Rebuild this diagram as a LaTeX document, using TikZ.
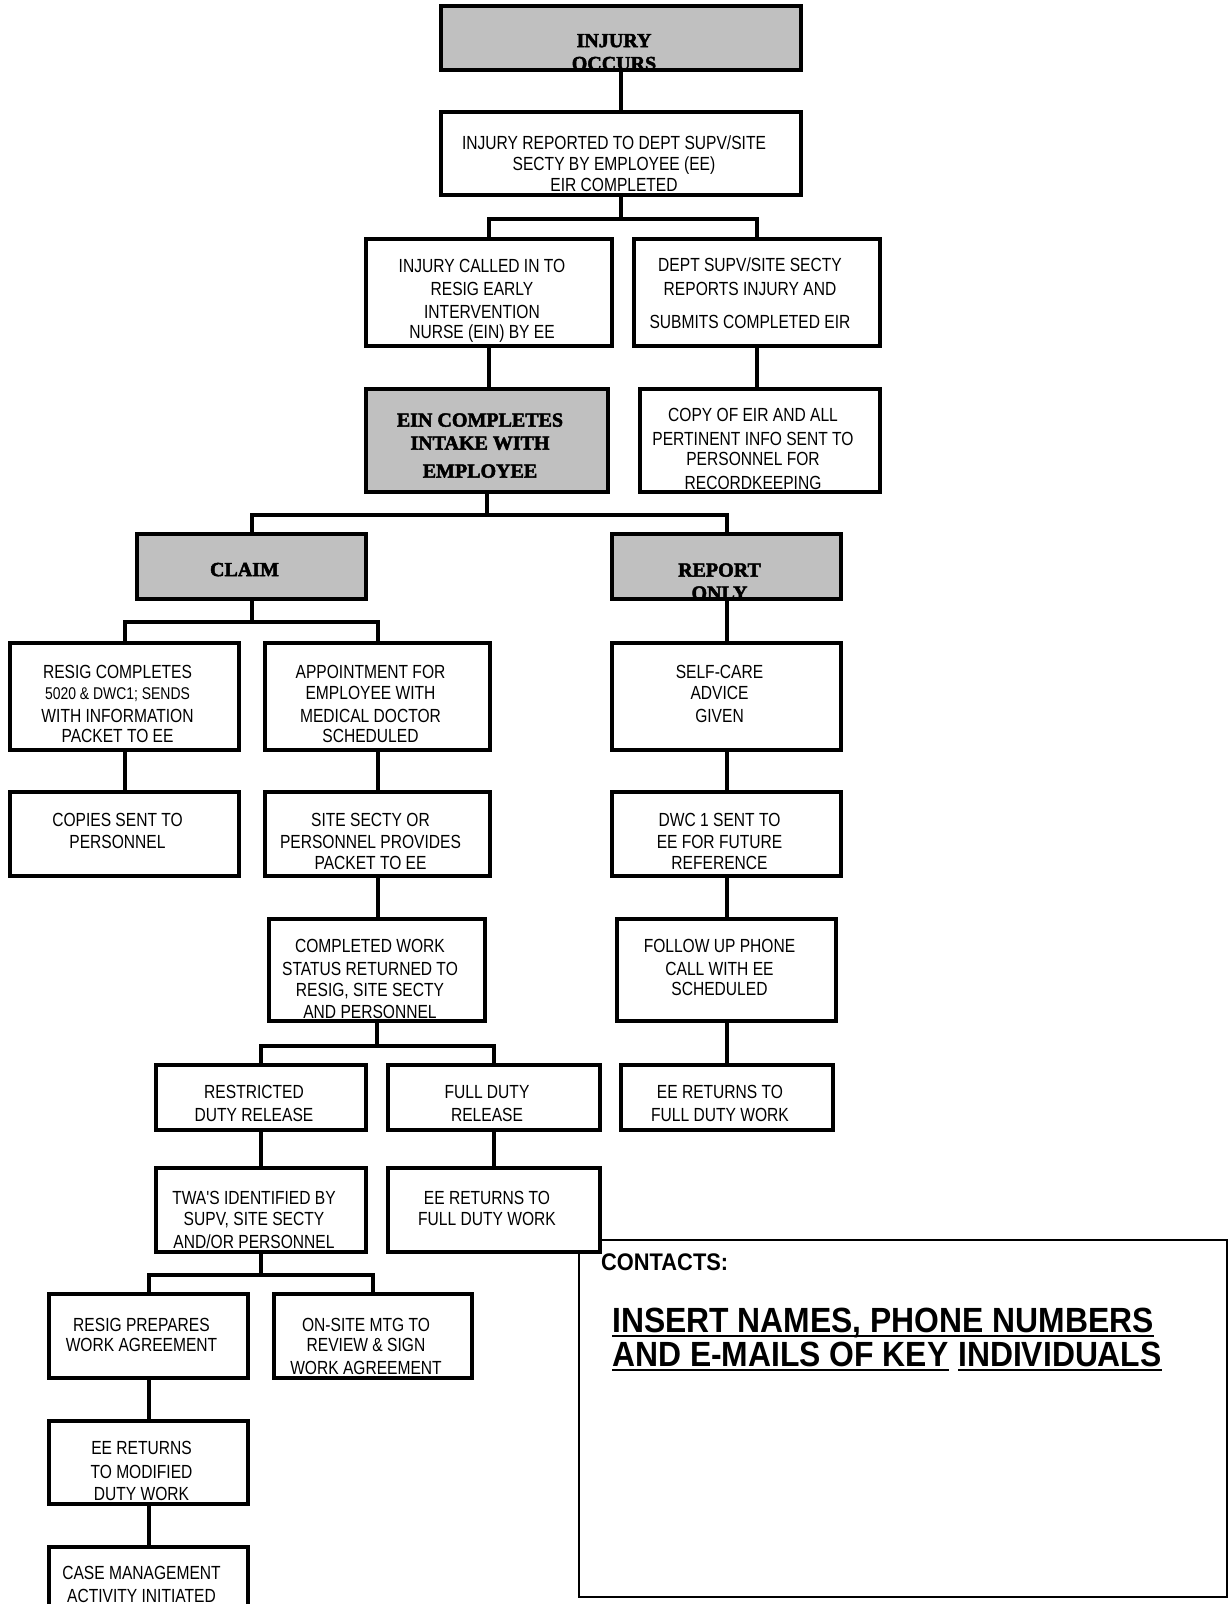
\documentclass[tikz,border=0pt]{standalone}
\usepackage{fontspec}
\setmainfont{Liberation Sans}
\newfontfamily\boxfont[FakeStretch=0.82]{Liberation Sans}
\newfontfamily\headfont[BoldFeatures={FakeBold=2.5}]{Liberation Serif}
\newfontfamily\contfont[FakeStretch=0.91]{Liberation Sans}
\definecolor{boxgray}{HTML}{C0C0C0}
% text block of a box, lowered by #1 pt and set a little left of centre
\newcommand{\boxtxt}[2]{\raisebox{-#1pt}[\height][\depth]{\begin{tabular}{@{}c@{}}#2\end{tabular}}\kern14pt}

\begin{document}
\begin{tikzpicture}[x=1pt, y=-1pt,
    box/.style={draw, line width=4pt, fill=white, inner sep=0pt, outer sep=0pt,
      font=\boxfont\fontsize{19}{22}\selectfont},
    gbox/.style={box, fill=boxgray, font=\headfont\bfseries\fontsize{20}{23}\selectfont},
    wh/.style 2 args={minimum width=#1pt, minimum height=#2pt},
    link/.style={line width=4pt},
    cbox/.style={draw, line width=1.5pt},
    ctext/.style={inner sep=0pt, font=\contfont\bfseries\fontsize{35}{32}\selectfont},
    uline/.style={line width=2.5pt}]
  \useasboundingbox (0,0) rectangle (1229,1604);
  \clip (0,0) rectangle (1229,1604);

  % contacts panel (behind the boxes)
  \node[cbox, wh={648}{357}] (contacts) at (903,1418.5) {};

  % top of the chart
  \node[gbox, wh={360}{64}] (occurs) at (621,38) {\boxtxt{16}{INJURY\\OCCURS}};
  \node[box, wh={360}{83}] (reported) at (621,153.5) {\boxtxt{13}{INJURY REPORTED TO DEPT SUPV/SITE\\[-1pt]SECTY BY EMPLOYEE (EE)\\[-1pt]EIR COMPLETED}};
  \node[box, wh={246}{107}] (called) at (489,292.5) {\boxtxt{9}{INJURY CALLED IN TO\\[1pt]RESIG EARLY\\[1pt]INTERVENTION\\[-2pt]NURSE (EIN) BY EE}};
  \node[box, wh={246}{107}] (dept) at (757,292.5) {\boxtxt{3}{DEPT SUPV/SITE SECTY\\[2pt]REPORTS INJURY AND\\[11pt]SUBMITS COMPLETED EIR}};
  \node[gbox, wh={242}{103}] (ein) at (487,440.5) {\boxtxt{7}{EIN COMPLETES\\INTAKE WITH\\[5pt]EMPLOYEE}};
  \node[box, wh={240}{103}] (copy) at (760,440.5) {\boxtxt{11}{COPY OF EIR AND ALL\\[2pt]PERTINENT INFO SENT TO\\[-2pt]PERSONNEL FOR\\[2pt]RECORDKEEPING}};

  % claim side
  \node[gbox, wh={229}{65}] (claim) at (251.5,566.5) {\boxtxt{5}{CLAIM}};
  \node[box, wh={229}{107}] (resig) at (124.5,696.5) {\boxtxt{10}{RESIG COMPLETES\\[-1pt]{\fontsize{17}{22}\selectfont 5020 \& DWC1; SENDS}\\[1pt]WITH INFORMATION\\[-2pt]PACKET TO EE}};
  \node[box, wh={225}{107}] (appt) at (377.5,696.5) {\boxtxt{10}{APPOINTMENT FOR\\[-1pt]EMPLOYEE WITH\\[1pt]MEDICAL DOCTOR\\[-2pt]SCHEDULED}};
  \node[box, wh={229}{84}] (copies) at (124.5,834) {\boxtxt{-1}{COPIES SENT TO\\PERSONNEL}};
  \node[box, wh={225}{84}] (sitesecty) at (377.5,834) {\boxtxt{10}{SITE SECTY OR\\PERSONNEL PROVIDES\\[-1pt]PACKET TO EE}};
  \node[box, wh={216}{102}] (completed) at (377,970) {\boxtxt{11}{COMPLETED WORK\\[1pt]STATUS RETURNED TO\\[-1pt]RESIG, SITE SECTY\\AND PERSONNEL}};
  \node[box, wh={210}{65}] (restricted) at (261,1097.5) {\boxtxt{8}{RESTRICTED\\[1pt]DUTY RELEASE}};
  \node[box, wh={212}{65}] (fullduty) at (494,1097.5) {\boxtxt{8}{FULL DUTY\\[1pt]RELEASE}};
  \node[box, wh={210}{84}] (twa) at (261,1210) {\boxtxt{12}{TWA'S IDENTIFIED BY\\[-1pt]SUPV, SITE SECTY\\[1pt]AND/OR PERSONNEL}};
  \node[box, wh={212}{84}] (eemid) at (494,1210) {\boxtxt{1}{EE RETURNS TO\\[-1pt]FULL DUTY WORK}};
  \node[box, wh={199}{84}] (resigprep) at (148.5,1336) {\boxtxt{1}{RESIG PREPARES\\[-2pt]WORK AGREEMENT}};
  \node[box, wh={198}{84}] (onsite) at (373,1336) {\boxtxt{13}{ON-SITE MTG TO\\[-2pt]REVIEW \& SIGN\\[1pt]WORK AGREEMENT}};
  \node[box, wh={199}{83}] (eemod) at (148.5,1462.5) {\boxtxt{11}{EE RETURNS\\[2pt]TO MODIFIED\\DUTY WORK}};
  \node[box, wh={199}{93}] (casemgmt) at (148.5,1593.5) {\boxtxt{-7}{CASE MANAGEMENT\\[1pt]ACTIVITY INITIATED}};

  % report only side
  \node[gbox, wh={229}{65}] (report) at (726.5,566.5) {\boxtxt{17}{REPORT\\ONLY}};
  \node[box, wh={229}{107}] (selfcare) at (726.5,696.5) {\boxtxt{0}{SELF-CARE\\[-1pt]ADVICE\\[1pt]GIVEN}};
  \node[box, wh={229}{84}] (dwc) at (726.5,834) {\boxtxt{10}{DWC 1 SENT TO\\EE FOR FUTURE\\[-1pt]REFERENCE}};
  \node[box, wh={219}{102}] (followup) at (726.5,970) {\boxtxt{0}{FOLLOW UP PHONE\\[1pt]CALL WITH EE\\[-2pt]SCHEDULED}};
  \node[box, wh={212}{65}] (eeright) at (727,1097.5) {\boxtxt{8}{EE RETURNS TO\\[1pt]FULL DUTY WORK}};

  % straight links
  \foreach \a/\b in {occurs/reported, called/ein, dept/copy, report/selfcare,
      resig/copies, appt/sitesecty, selfcare/dwc, sitesecty/completed, dwc/followup,
      followup/eeright, restricted/twa, fullduty/eemid, resigprep/eemod, eemod/casemgmt}
    \draw[link] (\a.south) -- (\a.south |- \b.north);

  % splits
  \draw[link] (reported.south) -- ++(0,24) coordinate (b1);
  \draw[link] (called.north) |- (b1) -| (dept.north);
  \draw[link] (ein.south) -- ++(0,23) coordinate (b2);
  \draw[link] (claim.north) |- (b2) -| (report.north);
  \draw[link] (claim.south) -- ++(0,23) coordinate (b3);
  \draw[link] (resig.north) |- (b3) -| (appt.north);
  \draw[link] (completed.south) -- ++(0,25) coordinate (b4);
  \draw[link] (restricted.north) |- (b4) -| (fullduty.north);
  \draw[link] (twa.south) -- ++(0,23) coordinate (b5);
  \draw[link] (resigprep.north) |- (b5) -| (onsite.north);

  % gray boxes cut their last line
  \foreach \g in {occurs, report}
    \draw[link] (\g.south west) rectangle (\g.north east);

  % contacts text
  \node[inner sep=0pt, anchor=base west, font=\contfont\bfseries\fontsize{24}{28}\selectfont] (conthead) at (601,1270) {CONTACTS:};
  \node[ctext, anchor=base west] (ins1) at (612,1332) {INSERT NAMES, PHONE NUMBERS};
  \node[ctext, anchor=base west] (ins2) at (612,1366) {AND E-MAILS OF KEY};
  \node[ctext, anchor=base west] (ins3) at (958,1366) {INDIVIDUALS};
  \foreach \u in {ins1, ins2, ins3}
    \draw[uline] ([yshift=-4pt]\u.base west) -- ([yshift=-4pt]\u.base east);
\end{tikzpicture}
\end{document}
